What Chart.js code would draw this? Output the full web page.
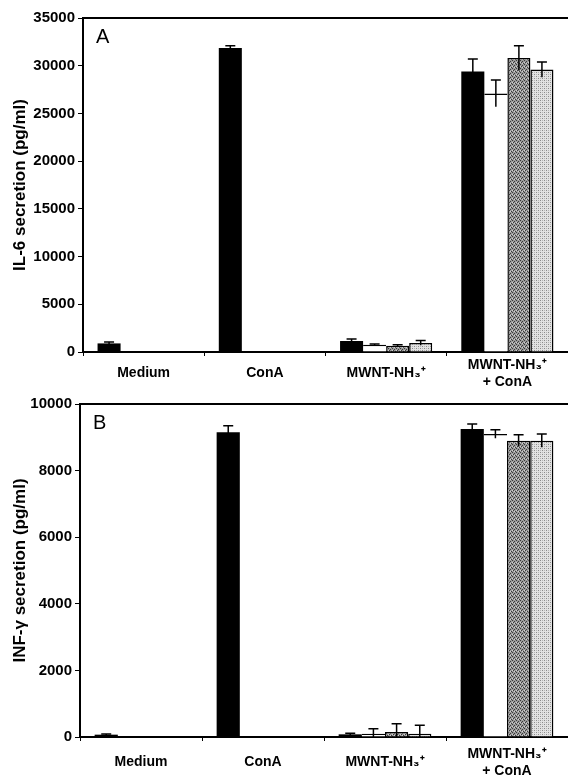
<!DOCTYPE html>
<html>
<head>
<meta charset="utf-8">
<script src="https://cdn.jsdelivr.net/npm/chart.js@4"></script>
<style>
  body { margin: 0; background: #fff; }
  .panel { position: absolute; left: 0; width: 568px; }
  #wrapA { top: 0; height: 388px; }
  #wrapB { top: 388px; height: 387px; }
</style>
</head>
<body>
<div class="panel" id="wrapA"><canvas id="chartA"></canvas></div>
<div class="panel" id="wrapB"><canvas id="chartB"></canvas></div>
<script>
const categories = ['Medium', 'ConA', 'MWNT-NH\u2083\u207A', ['MWNT-NH\u2083\u207A', '+ ConA']];

// IL-6 (panel A), four treatments per group
const il6Black = [900, 31850, 1150, 29400];
const il6White = [null, null, 750, 27100];
const il6Dark = [null, null, 650, 30800];
const il6Light = [null, null, 950, 29600];
const il6BlackErr = [150, 250, 200, 1300];
const il6WhiteErr = [null, null, 100, 1400];
const il6DarkErr = [null, null, 100, 1300];
const il6LightErr = [null, null, 250, 800];

// INF-gamma (panel B)
const ifnBlack = [70, 9150, 80, 9250];
const ifnWhite = [null, null, 100, 9100];
const ifnDark = [null, null, 150, 8900];
const ifnLight = [null, null, 100, 8900];
const ifnBlackErr = [20, 200, 30, 150];
const ifnWhiteErr = [null, null, 150, 130];
const ifnDarkErr = [null, null, 250, 180];
const ifnLightErr = [null, null, 250, 200];

const il6Ticks = [0, 5000, 10000, 15000, 20000, 25000, 30000, 35000];
const ifnTicks = [0, 2000, 4000, 6000, 8000, 10000];

function makePattern(kind) {
    const c = document.createElement('canvas');
    c.width = 4; c.height = 4;
    const g = c.getContext('2d');
    if (kind === 'dark') {
        g.fillStyle = '#9a9a9a'; g.fillRect(0, 0, 4, 4);
        g.fillStyle = '#3a3a3a';
        g.fillRect(0, 0, 1, 1); g.fillRect(2, 1, 1, 1); g.fillRect(1, 2, 1, 1); g.fillRect(3, 3, 1, 1);
        g.fillStyle = '#d0d0d0';
        g.fillRect(2, 3, 1, 1); g.fillRect(0, 2, 1, 1);
    } else {
        g.fillStyle = '#e2e2e2'; g.fillRect(0, 0, 4, 4);
        g.fillStyle = '#8a8a8a';
        g.fillRect(0, 0, 1, 1); g.fillRect(2, 2, 1, 1);
        g.fillStyle = '#b5b5b5';
        g.fillRect(2, 0, 1, 1); g.fillRect(0, 2, 1, 1);
    }
    return g.createPattern(c, 'repeat');
}

const errorBars = {
    id: 'errorBars',
    afterDatasetsDraw(chart) {
        const ctx = chart.ctx;
        const y = chart.scales.y;
        ctx.save();
        ctx.strokeStyle = '#000';
        ctx.lineWidth = 1.5;
        chart.data.datasets.forEach((ds, di) => {
            const meta = chart.getDatasetMeta(di);
            ds.data.forEach((v, i) => {
                const e = ds.errors[i];
                if (v == null || e == null) return;
                const bar = meta.data[i];
                const top = y.getPixelForValue(v + e);
                const bottom = y.getPixelForValue(Math.max(0, v - e));
                const cap = 5;
                ctx.beginPath();
                ctx.moveTo(bar.x, bottom); ctx.lineTo(bar.x, top);
                ctx.moveTo(bar.x - cap, top); ctx.lineTo(bar.x + cap, top);
                ctx.stroke();
            });
        });
        ctx.restore();
    }
};

const frameAndLetter = {
    id: 'frameAndLetter',
    afterDraw(chart, args, opts) {
        const ctx = chart.ctx;
        const a = chart.chartArea;
        ctx.save();
        ctx.strokeStyle = '#000';
        ctx.lineWidth = 2;
        ctx.beginPath();
        ctx.moveTo(a.left, a.top); ctx.lineTo(chart.width, a.top);
        ctx.stroke();
        ctx.fillStyle = '#000';
        ctx.font = '20px "Liberation Sans", Arial, sans-serif';
        ctx.textBaseline = 'top';
        ctx.fillText(opts.letter, a.left + 13, a.top + 9);
        ctx.restore();
    }
};

function buildDatasets(vals, errs) {
    const fills = ['#000', '#fff', makePattern('dark'), makePattern('light')];
    const borders = [0, { top: 1.5, left: 0, right: 0, bottom: 0 }, 1.5, 1.5];
    return vals.map((v, k) => ({
        data: v,
        errors: errs[k],
        backgroundColor: fills[k],
        borderColor: '#000',
        borderWidth: borders[k],
        borderSkipped: 'bottom',
        categoryPercentage: 0.76,
        barPercentage: 1.0
    }));
}

function makeChart(id, datasets, max, ticks, title, letter, axisWidth, xHeight, padTop, labelPad) {
    const family = '"Liberation Sans", Arial, sans-serif';
    return new Chart(document.getElementById(id), {
        type: 'bar',
        data: { labels: categories, datasets: datasets },
        plugins: [errorBars, frameAndLetter],
        options: {
            responsive: true,
            maintainAspectRatio: false,
            animation: false,
            layout: { padding: { top: padTop, right: 0, bottom: 0, left: 0 } },
            plugins: {
                legend: { display: false },
                tooltip: { enabled: false },
                frameAndLetter: { letter: letter }
            },
            scales: {
                x: {
                    offset: true,
                    grid: { drawOnChartArea: false, drawTicks: true, tickLength: 4, color: '#000', offset: true },
                    border: { color: '#000', width: 2 },
                    ticks: {
                        color: '#000',
                        font: { family: family, weight: 'bold', size: 14 },
                        padding: labelPad,
                        crossAlign: 'center',
                        maxRotation: 0,
                        autoSkip: false
                    },
                    afterFit(s) { s.height = xHeight; }
                },
                y: {
                    min: 0,
                    max: max,
                    afterBuildTicks(s) { s.ticks = ticks.map(v => ({ value: v })); },
                    grid: { drawOnChartArea: false, drawTicks: true, tickLength: 5, color: '#000' },
                    border: { color: '#000', width: 2 },
                    ticks: {
                        color: '#000',
                        font: { family: family, weight: 'bold', size: 15 },
                        padding: 3,
                        callback: (v) => String(v)
                    },
                    title: {
                        display: true,
                        text: title,
                        color: '#000',
                        font: { family: family, weight: 'bold', size: 17 },
                        padding: { top: 10, bottom: 0 }
                    },
                    afterFit(s) { s.width = axisWidth; }
                }
            }
        }
    });
}

makeChart('chartA',
    buildDatasets([il6Black, il6White, il6Dark, il6Light], [il6BlackErr, il6WhiteErr, il6DarkErr, il6LightErr]),
    35000, il6Ticks, 'IL-6 secretion (pg/ml)', 'A', 83, 36, 18, 9);

makeChart('chartB',
    buildDatasets([ifnBlack, ifnWhite, ifnDark, ifnLight], [ifnBlackErr, ifnWhiteErr, ifnDarkErr, ifnLightErr]),
    10000, ifnTicks, 'INF-\u03B3 secretion (pg/ml)', 'B', 80, 38, 16, 13);
</script>
</body>
</html>
